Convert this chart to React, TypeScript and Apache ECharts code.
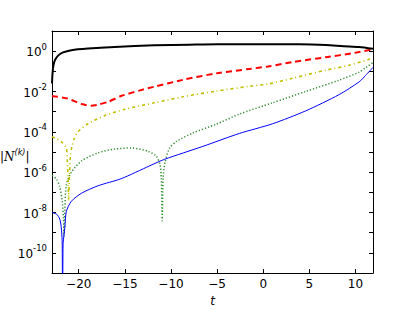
import React, { useEffect, useRef } from "react";
import * as echarts from "echarts";

// x axis tick values
const tTicks = [-20, -15, -10, -5, 0, 5, 10];
// y axis (log) tick exponents
const yTickExps = [-11, -10, -9, -8, -7, -6, -5, -4, -3, -2, -1, 0, 1];

// series values: t and log10 |N^(k)|
const blackT = [-22.9, -22.85, -22.75, -22.6, -22.24, -21.7, -20.8, -19.0, -16.1, -11.8, -8, -5, -0.4, 3.9, 6.8, 8.7, 10.4, 11.9];
const blackE = [-1.6, -1.15, -0.72, -0.46, -0.22, -0.06, 0.05, 0.13, 0.21, 0.29, 0.32, 0.34, 0.34, 0.34, 0.31, 0.25, 0.21, 0.12];

const redT = [-22.9, -21.2, -19.7, -18.65, -17.9, -16.8, -15.4, -13.25, -11.8, -8.7, -5.1, -1.5, 0.5, 3.2, 6.8, 9.6, 11.9];
const redE = [-2.22, -2.35, -2.62, -2.7, -2.65, -2.51, -2.22, -1.93, -1.76, -1.42, -1.1, -0.88, -0.76, -0.54, -0.3, -0.11, 0.1];

const yelT = [-22.9, -21.9, -21.35, -21.25, -21.15, -21.1, -21.0, -20.9, -20.75, -20.5, -20.1, -19.0, -17.2, -15.0, -11.8, -8.7, -5.1, -1.5, 0.5, 3.2, 6.8, 9.3, 11.4, 11.9];
const yelE = [-4.24, -4.48, -4.8, -5.4, -6.4, -7.36, -6.0, -5.2, -4.75, -4.35, -4.0, -3.6, -3.2, -2.88, -2.56, -2.26, -1.98, -1.74, -1.63, -1.34, -0.94, -0.7, -0.41, -0.3];

const greenT = [-22.9, -22.4, -22.06, -21.8, -21.65, -21.6, -21.5, -21.35, -20.8, -19.7, -17.9, -16.1, -14.3, -12.5, -11.6, -11.2, -11.05, -10.95, -10.85, -10.66, -10.15, -9.43, -7.6, -5.1, -2.6, 1.0, 4.6, 8.2, 10.4, 11.1, 11.9];
const greenE = [-6.16, -6.35, -6.72, -7.4, -8.3, -9.18, -7.8, -6.64, -6.0, -5.44, -5.04, -4.85, -4.8, -4.96, -5.2, -5.6, -6.3, -8.4, -6.3, -5.52, -4.8, -4.48, -4.05, -3.62, -3.12, -2.56, -2.0, -1.44, -1.04, -0.82, -0.56];

const blueT = [-22.9, -22.4, -22.06, -21.9, -21.8, -21.75, -21.7, -21.6, -21.5, -21.35, -20.8, -19.7, -17.9, -15.4, -12.3, -10.7, -6.55, -2.6, 1.0, 4.6, 8.2, 10.4, 11.1, 11.9];
const blueE = [-8.0, -8.08, -8.32, -8.72, -9.4, -13, -9.6, -9.1, -8.72, -7.95, -7.44, -7.04, -6.67, -6.32, -5.68, -5.36, -4.72, -4.08, -3.6, -2.96, -2.16, -1.52, -1.2, -0.8];

const pairs = (ts: number[], es: number[]) => ts.map((t, i) => [t, Math.pow(10, es[i])]);

export default function App() {
  const ref = useRef<HTMLDivElement>(null);
  useEffect(() => {
    const chart = echarts.init(ref.current!, null, { renderer: "svg" });
    const font = "DejaVu Sans";
    const yFmt = (v: number) => {
      const e = Math.round(Math.log10(v));
      if (e % 2 !== 0) return "";
      return `{b|10}{s|${e === 0 ? "0" : "-" + -e}}`;
    };
    const tick = { inside: true, length: 4, lineStyle: { color: "#000", width: 1 } };
    const line = { show: true, onZero: false, lineStyle: { color: "#000", width: 1 } };
    const yCommon = {
      type: "log",
      logBase: 10,
      min: 1e-11,
      max: 10,
      interval: 1,
      axisLine: line,
      splitLine: { show: false },
      minorTick: { show: false },
    };
    const xCommon = {
      type: "value",
      min: -22.9,
      max: 11.9,
      axisLine: line,
      splitLine: { show: false },
    };
    const mk = (name: string, ts: number[], es: number[], color: string, width: number, type: any, z: number) => ({
      type: "line",
      name,
      data: pairs(ts, es),
      symbol: "none",
      smooth: 0.25,
      clip: true,
      z,
      lineStyle: { color, width, type },
    });
    chart.setOption({
      animation: false,
      grid: { left: 52, right: 42, top: 31, bottom: 32 },
      xAxis: [
        {
          ...xCommon,
          position: "bottom",
          axisTick: { ...tick, customValues: tTicks },
          axisLabel: {
            customValues: tTicks,
            formatter: (v: number) => String(v).replace("-", "\u2212"),
            color: "#000",
            fontFamily: font,
            fontSize: 12,
            margin: 5,
          },
          name: "t",
          nameLocation: "middle",
          nameGap: 15,
          nameTextStyle: { fontStyle: "italic", fontFamily: font, fontSize: 12, color: "#000" },
        },
        {
          ...xCommon,
          position: "top",
          axisTick: { ...tick, customValues: tTicks },
          axisLabel: { show: false },
        },
      ],
      yAxis: [
        {
          ...yCommon,
          position: "left",
          axisTick: { ...tick },
          axisLabel: {
            formatter: yFmt,
            color: "#000",
            fontFamily: font,
            fontSize: 12,
            margin: 5,
            rich: {
              b: { fontFamily: font, fontSize: 12, color: "#000", verticalAlign: "bottom", lineHeight: 14 },
              s: { fontFamily: font, fontSize: 8.5, color: "#000", verticalAlign: "bottom", lineHeight: 14, padding: [0, 0, 7, 0] },
            },
          },
        },
        {
          ...yCommon,
          position: "right",
          axisTick: { ...tick },
          axisLabel: { show: false },
        },
      ],
      graphic: [
        {
          type: "text",
          left: 0,
          top: 148,
          style: {
            text: "{a||}{n|N}{s|(k)}{a||}",
            rich: {
              a: { fontFamily: font, fontSize: 12, fill: "#000", verticalAlign: "bottom", lineHeight: 16 },
              n: { fontFamily: "DejaVu Serif", fontSize: 12, fill: "#000", fontStyle: "italic", verticalAlign: "bottom", lineHeight: 16 },
              s: { fontFamily: font, fontSize: 8, fill: "#000", fontStyle: "italic", verticalAlign: "bottom", lineHeight: 16, padding: [0, 0, 7, 0] },
            },
          },
        },
      ],
      series: [
        mk("k0", blackT, blackE, "#000000", 2, "solid", 5),
        mk("k1", redT, redE, "#ff0000", 2, [6, 4], 4),
        mk("k2", yelT, yelE, "#bfbf00", 1.6, [3, 3, 1, 3], 3),
        mk("k3", greenT, greenE, "#2e8b2e", 1.5, [1.2, 2], 2),
        mk("k4", blueT, blueE, "#0000ff", 1, "solid", 6),
      ],
    });
    return () => chart.dispose();
  }, []);
  return <div ref={ref} style={{ width: 415, height: 312, position: "absolute", left: 0, top: 0 }} />;
}
